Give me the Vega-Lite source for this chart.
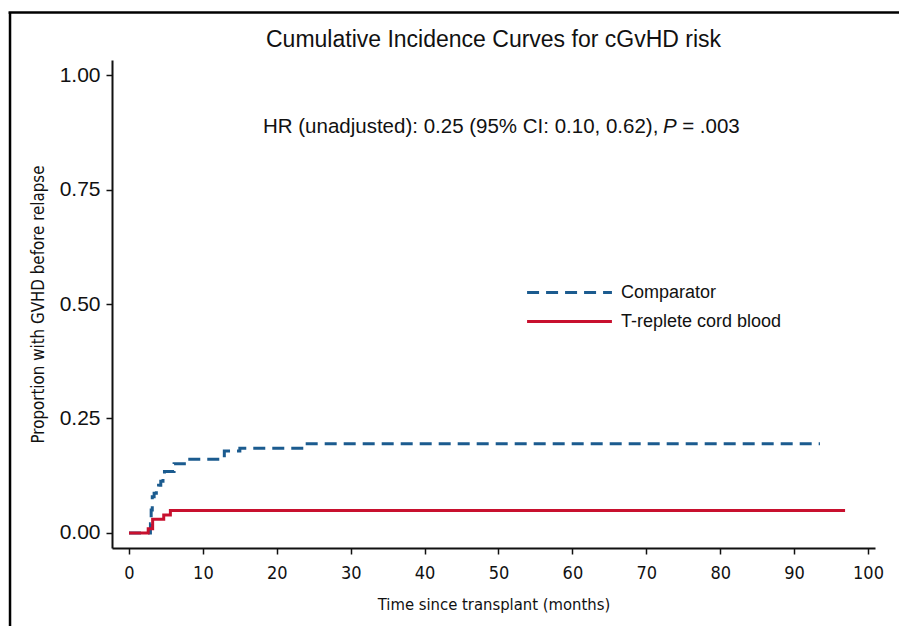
{
  "$schema": "https://vega.github.io/schema/vega-lite/v6.json",
  "width": 763,
  "height": 488,
  "autosize": {"type": "none"},
  "padding": {"left": 112, "top": 60, "right": 24, "bottom": 78},
  "background": "white",
  "title": {
    "text": "Cumulative Incidence Curves for cGvHD risk",
    "anchor": "middle",
    "frame": "group",
    "fontSize": 23,
    "font": "Liberation Sans",
    "fontWeight": "normal",
    "color": "#111111",
    "offset": -41
  },
  "config": {
    "view": {"stroke": null},
    "axis": {
      "grid": false,
      "domainColor": "#111111",
      "domainWidth": 2,
      "tickColor": "#111111",
      "tickWidth": 1.5,
      "tickSize": 6,
      "labelColor": "#111111",
      "titleColor": "#111111",
      "titleFontWeight": "normal"
    }
  },
  "datasets": {
    "curves": [
      {"group": "Comparator", "t": 0, "p": 0},
      {"group": "Comparator", "t": 2.9, "p": 0.02},
      {"group": "Comparator", "t": 3.0, "p": 0.05},
      {"group": "Comparator", "t": 3.15, "p": 0.079},
      {"group": "Comparator", "t": 3.4, "p": 0.087},
      {"group": "Comparator", "t": 3.7, "p": 0.096},
      {"group": "Comparator", "t": 4.0, "p": 0.104},
      {"group": "Comparator", "t": 4.3, "p": 0.113},
      {"group": "Comparator", "t": 4.6, "p": 0.122},
      {"group": "Comparator", "t": 4.8, "p": 0.134},
      {"group": "Comparator", "t": 6.1, "p": 0.151},
      {"group": "Comparator", "t": 8.0, "p": 0.161},
      {"group": "Comparator", "t": 12.9, "p": 0.179},
      {"group": "Comparator", "t": 15.0, "p": 0.185},
      {"group": "Comparator", "t": 23.7, "p": 0.195},
      {"group": "Comparator", "t": 93.5, "p": 0.195},
      {"group": "T-replete cord blood", "t": 0, "p": 0},
      {"group": "T-replete cord blood", "t": 2.6, "p": 0.009},
      {"group": "T-replete cord blood", "t": 3.2, "p": 0.03},
      {"group": "T-replete cord blood", "t": 4.7, "p": 0.039},
      {"group": "T-replete cord blood", "t": 5.6, "p": 0.049},
      {"group": "T-replete cord blood", "t": 96.9, "p": 0.049}
    ],
    "one": [{}]
  },
  "layer": [
    {
      "data": {"name": "curves"},
      "mark": {"type": "line", "interpolate": "step-after", "strokeWidth": 3, "strokeCap": "butt"},
      "encoding": {
        "x": {
          "field": "t", "type": "quantitative",
          "scale": {"domain": [-2.3, 100.95], "nice": false, "zero": false},
          "axis": {
            "values": [0, 10, 20, 30, 40, 50, 60, 70, 80, 90, 100],
            "title": "Time since transplant (months)",
            "titleFont": "'Liberation Sans Narrow', 'DejaVu Sans Condensed', 'Roboto Condensed', sans-serif",
            "titleFontSize": 16.5,
            "titlePadding": 14,
            "labelFont": "'Liberation Sans Narrow', 'DejaVu Sans Condensed', 'Roboto Condensed', sans-serif",
            "labelFontSize": 18,
            "labelPadding": 10,
            "labelFlush": false
          }
        },
        "y": {
          "field": "p", "type": "quantitative",
          "scale": {"domain": [-0.0328, 1.0328], "nice": false, "zero": false},
          "axis": {
            "values": [0, 0.25, 0.5, 0.75, 1],
            "format": ".2f",
            "title": "Proportion with GVHD before relapse",
            "titleFont": "'Liberation Sans Narrow', 'DejaVu Sans Condensed', 'Roboto Condensed', sans-serif",
            "titleFontSize": 16.8,
            "titlePadding": 12,
            "labelFont": "Liberation Sans",
            "labelFontSize": 21,
            "labelPadding": 6,
            "labelFlush": false
          }
        },
        "color": {
          "field": "group", "type": "nominal",
          "scale": {"domain": ["Comparator", "T-replete cord blood"], "range": ["#1B5B8F", "#C8102E"]},
          "legend": {
            "title": null,
            "orient": "none",
            "legendX": 445,
            "legendY": 220,
            "symbolType": "M-4,0H4",
            "symbolSize": 450,
            "symbolStrokeWidth": 3,
            "labelFont": "Liberation Sans",
            "labelFontSize": 18,
            "labelColor": "#111111",
            "labelOffset": 39,
            "labelLimit": 300,
            "rowPadding": 7
          }
        },
        "strokeDash": {
          "field": "group", "type": "nominal",
          "scale": {"domain": ["Comparator", "T-replete cord blood"], "range": [[12, 7], [1, 0]]},
          "legend": {
            "title": null,
            "orient": "none",
            "legendX": 445,
            "legendY": 220,
            "symbolType": "M-4,0H4",
            "symbolSize": 450,
            "symbolStrokeWidth": 3,
            "labelFont": "Liberation Sans",
            "labelFontSize": 18,
            "labelColor": "#111111",
            "labelOffset": 39,
            "labelLimit": 300,
            "rowPadding": 7
          }
        }
      }
    },
    {
      "data": {"name": "one"},
      "mark": {"type": "text", "align": "left", "baseline": "middle", "font": "Liberation Sans", "fontSize": 20.5, "color": "#111111"},
      "encoding": {
        "x": {"datum": 18.13, "type": "quantitative"},
        "y": {"datum": 0.886, "type": "quantitative"},
        "text": {"value": "HR (unadjusted): 0.25 (95% CI: 0.10, 0.62),"}
      }
    },
    {
      "data": {"name": "one"},
      "mark": {"type": "text", "align": "left", "baseline": "middle", "font": "Liberation Sans", "fontSize": 20.5, "fontStyle": "italic", "color": "#111111"},
      "encoding": {
        "x": {"datum": 72.26, "type": "quantitative"},
        "y": {"datum": 0.886, "type": "quantitative"},
        "text": {"value": "P"}
      }
    },
    {
      "data": {"name": "one"},
      "mark": {"type": "text", "align": "left", "baseline": "middle", "font": "Liberation Sans", "fontSize": 20.5, "color": "#111111"},
      "encoding": {
        "x": {"datum": 74.85, "type": "quantitative"},
        "y": {"datum": 0.886, "type": "quantitative"},
        "text": {"value": "= .003"}
      }
    },
    {
      "data": {"name": "one"},
      "mark": {"type": "rule", "color": "#000000", "strokeWidth": 2.5, "clip": false},
      "encoding": {
        "x": {"datum": -16.1, "type": "quantitative"},
        "y": {"datum": 1.1365, "type": "quantitative"},
        "y2": {"datum": -0.3}
      }
    },
    {
      "data": {"name": "one"},
      "mark": {"type": "rule", "color": "#000000", "strokeWidth": 2.5, "clip": false},
      "encoding": {
        "y": {"datum": 1.1365, "type": "quantitative"},
        "x": {"datum": -16.3, "type": "quantitative"},
        "x2": {"datum": 110}
      }
    }
  ]
}
